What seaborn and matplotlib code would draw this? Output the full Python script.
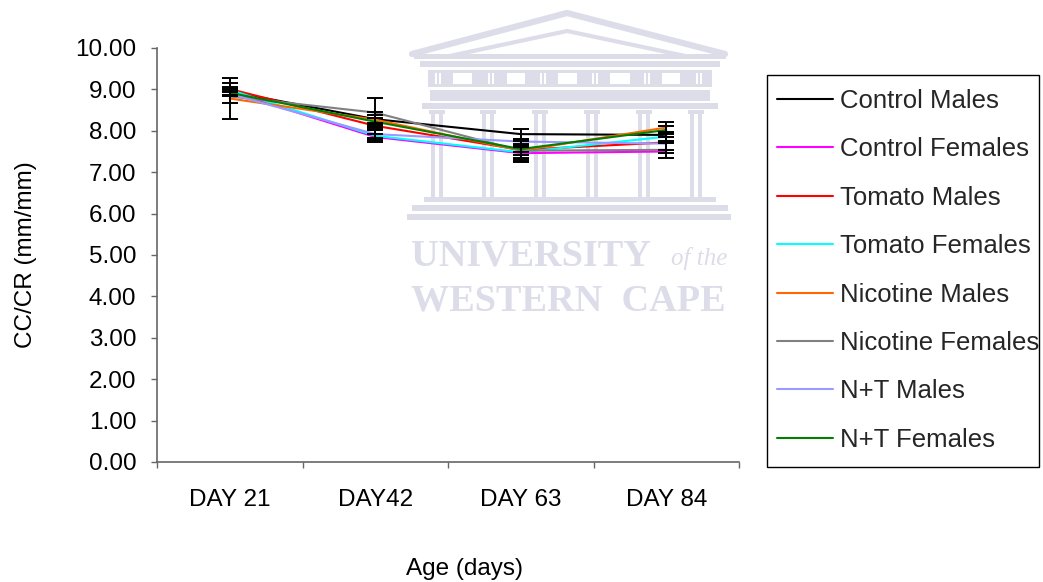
import numpy as np
import pandas as pd
import matplotlib
matplotlib.use("Agg")
import matplotlib.pyplot as plt
from matplotlib.patches import Rectangle
from matplotlib.lines import Line2D
import seaborn as sns

# ---- data -------------------------------------------------------------
days = ["DAY 21", "DAY42", "DAY 63", "DAY 84"]
groups = ["Control Males", "Control Females", "Tomato Males", "Tomato Females",
          "Nicotine Males", "Nicotine Females", "N+T Males", "N+T Females"]

control_males = [8.95, 8.28, 7.92, 7.90]
control_females = [8.95, 7.85, 7.46, 7.50]
tomato_males = [9.01, 8.12, 7.54, 7.72]
tomato_females = [8.99, 7.88, 7.48, 7.86]
nicotine_males = [8.78, 8.27, 7.52, 8.08]
nicotine_females = [8.83, 8.44, 7.52, 7.54]
nt_males = [8.89, 7.92, 7.74, 7.69]
nt_females = [8.92, 8.22, 7.56, 8.02]

control_males_err = [0.08, 0.18, 0.12, 0.06]
control_females_err = [0.10, 0.08, 0.20, 0.04]
tomato_males_err = [0.14, 0.06, 0.22, 0.02]
tomato_females_err = [0.05, 0.14, 0.13, 0.10]
nicotine_males_err = [0.50, 0.10, 0.10, 0.13]
nicotine_females_err = [0.17, 0.36, 0.28, 0.19]
nt_males_err = [0.04, 0.10, 0.06, 0.16]
nt_females_err = [0.06, 0.08, 0.08, 0.10]

colors = ["#000000", "#ff00ff", "#ff0000", "#00ffff",
          "#ff6600", "#808080", "#9999ff", "#008000"]

means = [control_males, control_females, tomato_males, tomato_females,
         nicotine_males, nicotine_females, nt_males, nt_females]
errs = [control_males_err, control_females_err, tomato_males_err, tomato_females_err,
        nicotine_males_err, nicotine_females_err, nt_males_err, nt_females_err]

rows = []
for g, vals in zip(groups, means):
    for i, v in enumerate(vals):
        rows.append({"pos": i, "day": days[i], "group": g, "value": v})
df = pd.DataFrame(rows)

# ---- figure -----------------------------------------------------------
sns.set_theme(style="white")
plt.rcParams["font.family"] = ["Liberation Sans", "DejaVu Sans"]

W, H = 1043, 582
fig = plt.figure(figsize=(W / 100, H / 100), dpi=100)
fig.patch.set_facecolor("white")


def fx(px):
    return px / W


def fy(py):
    return 1 - py / H


# faint university crest behind the plot
wm = "#dcdde9"
wm_kw = dict(transform=fig.transFigure, color=wm, zorder=0)


def wrect(x0, y0, x1, y1, color=wm):
    fig.add_artist(Rectangle((fx(x0), fy(y1)), fx(x1) - fx(x0), fy(y0) - fy(y1),
                             transform=fig.transFigure, facecolor=color,
                             edgecolor="none", zorder=0))


fig.add_artist(Line2D([fx(412), fx(567), fx(725)], [fy(54), fy(13), fy(54)],
                      lw=4.5, solid_joinstyle="miter", **wm_kw))
fig.add_artist(Line2D([fx(445), fx(567), fx(690)], [fy(57), fy(31), fy(57)],
                      lw=3, solid_joinstyle="miter", **wm_kw))
wrect(414, 54, 726, 59)
wrect(420, 61, 720, 67)
wrect(428, 70, 712, 87)
for x0, x1 in [(453, 472), (507, 525), (558, 577), (610, 630), (662, 680)]:
    wrect(x0, 73, x1, 84, color="white")
for xs in [436, 440, 489, 493, 541, 545, 593, 597, 645, 649, 697, 701]:
    wrect(xs - 1, 73, xs + 1, 84, color="white")
wrect(430, 90, 710, 101)
wrect(422, 103, 718, 109)
for cx in [438, 489, 541, 593, 645, 697]:
    wrect(cx - 7, 110, cx - 3, 197)
    wrect(cx + 1, 110, cx + 5, 197)
    wrect(cx - 9, 110, cx + 7, 114)
wrect(424, 197, 716, 202)
wrect(412, 205, 728, 211)
wrect(407, 214, 731, 220)
fig.text(fx(411), fy(256), "UNIVERSITY", family="Liberation Serif", weight="bold",
         fontsize=27.5, color=wm, va="center", ha="left", zorder=0)
fig.text(fx(727), fy(258), "of the", family="Liberation Serif", style="italic",
         fontsize=18, color=wm, va="center", ha="right", zorder=0)
fig.text(fx(411), fy(301), "WESTERN  CAPE", family="Liberation Serif", weight="bold",
         fontsize=27.5, color=wm, va="center", ha="left", zorder=0)

ax = fig.add_axes([fx(157), fy(462), fx(739) - fx(157), fy(48) - fy(462)])
ax.set_facecolor("none")

sns.lineplot(data=df, x="pos", y="value", hue="group", hue_order=groups,
             palette=colors, linewidth=1.5, ax=ax, legend=True, zorder=2)

for vals, e in zip(means, errs):
    ax.errorbar(range(len(days)), vals, yerr=e, fmt="none", ecolor="black",
                elinewidth=1.4, capsize=5.8, capthick=1.4, zorder=3)

ax.set_xlim(-0.5, len(days) - 0.5)
ax.set_ylim(0, 10)
ax.set_yticks(np.arange(0, 10.01, 1))
ax.set_yticklabels([f"{v:.2f}" for v in np.arange(0, 10.01, 1)])

ax.set_xticks(np.arange(-0.5, len(days), 1))
ax.set_xticklabels([])
ax.set_xticks(range(len(days)), minor=True)
ax.set_xticklabels(days, minor=True)

axis_col = "#666666"
for side in ["top", "right"]:
    ax.spines[side].set_visible(False)
for side in ["left", "bottom"]:
    ax.spines[side].set_color(axis_col)
    ax.spines[side].set_linewidth(1.2)

ax.tick_params(axis="y", which="major", direction="out", length=4.5, width=1.0,
               color=axis_col, labelsize=17.5, pad=10.5, labelcolor="black", left=True)
ax.tick_params(axis="x", which="major", direction="out", length=4.5, width=1.0,
               color=axis_col, bottom=True)
ax.tick_params(axis="x", which="minor", length=0, labelsize=17.5, pad=19.5,
               labelcolor="black")

ax.set_xlabel("Age (days)", fontsize=17.5, color="black")
ax.set_ylabel("CC/CR (mm/mm)", fontsize=17.5, color="black")
ax.xaxis.set_label_coords(0.529, -0.232)
ax.yaxis.set_label_coords(-0.207, 0.5)

# legend entries, with a box drawn around them
handles, labels = ax.get_legend_handles_labels()
leg = ax.legend(handles, labels, loc="upper left",
                bbox_to_anchor=(fx(777), fy(89)), bbox_transform=fig.transFigure,
                fontsize=18.5, frameon=False, borderaxespad=0, borderpad=0,
                labelspacing=0.95, handlelength=2.18, handletextpad=0.27)
for line in leg.get_lines():
    line.set_linewidth(1.5)
fig.add_artist(Rectangle((fx(767), fy(467)), fx(1039) - fx(767), fy(75) - fy(467),
                         transform=fig.transFigure, facecolor="none",
                         edgecolor="black", linewidth=1.0, zorder=5))

fig.savefig("out.png", dpi=100, facecolor="white")
